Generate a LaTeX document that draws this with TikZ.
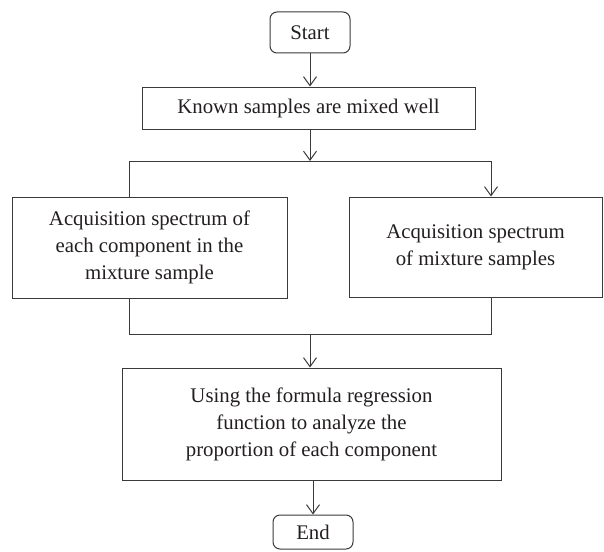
\documentclass[tikz,border=0pt]{standalone}
\usepackage{fontspec}
\setmainfont{Liberation Serif}
\usetikzlibrary{arrows.meta}
\definecolor{linec}{HTML}{3A3A3A}
\definecolor{textc}{HTML}{231F20}
\begin{document}
\begin{tikzpicture}[x=1pt,y=-1pt,
  box/.style={draw=linec, line width=1pt, align=center, inner sep=0pt, text=textc, font=\fontsize{20.8}{27}\selectfont},
  term/.style={box, rounded corners=7pt},
  arr/.style={draw=linec, line width=1pt, -{Straight Barb[length=9pt,width=13pt,line width=1pt]}},
  ln/.style={draw=linec, line width=1pt}]
\useasboundingbox (0,0) rectangle (604,551);
\node[term, minimum width=80pt, minimum height=41pt] (start) at (310,32.5) {Start};
\node[box, minimum width=333pt, minimum height=42pt] (known) at (308.5,108) {Known samples are mixed well};
\node[box, minimum width=275pt, minimum height=101pt] (left) at (149.5,247.5) {Acquisition spectrum of\\each component in the\\mixture sample};
\node[box, minimum width=253pt, minimum height=100pt] (right) at (475.5,247) {Acquisition spectrum\\of mixture samples};
\node[box, minimum width=379pt, minimum height=112pt] (using) at (311.5,424) {Using the formula regression\\function to analyze the\\proportion of each component};
\node[term, minimum width=80pt, minimum height=34pt] (end) at (313,532) {End};
\coordinate (split) at (310,161);
\coordinate (sl) at (129,161);
\coordinate (sr) at (491,161);
\coordinate (join) at (310,334);
\coordinate (jl) at (129,334);
\coordinate (jr) at (491,334);
\draw[arr] (start.south) -- (start.south |- known.north);
\draw[arr] (known.south -| split) -- (split);
\draw[ln] (sl |- left.north) -- (sl) -- (sr);
\draw[arr] (sr) -- (sr |- right.north);
\draw[ln] (left.south -| jl) -- (jl) -- (jr) -- (right.south -| jr);
\draw[arr] (join) -- (join |- using.north);
\draw[arr] (using.south -| end) -- (end.north);
\end{tikzpicture}
\end{document}
